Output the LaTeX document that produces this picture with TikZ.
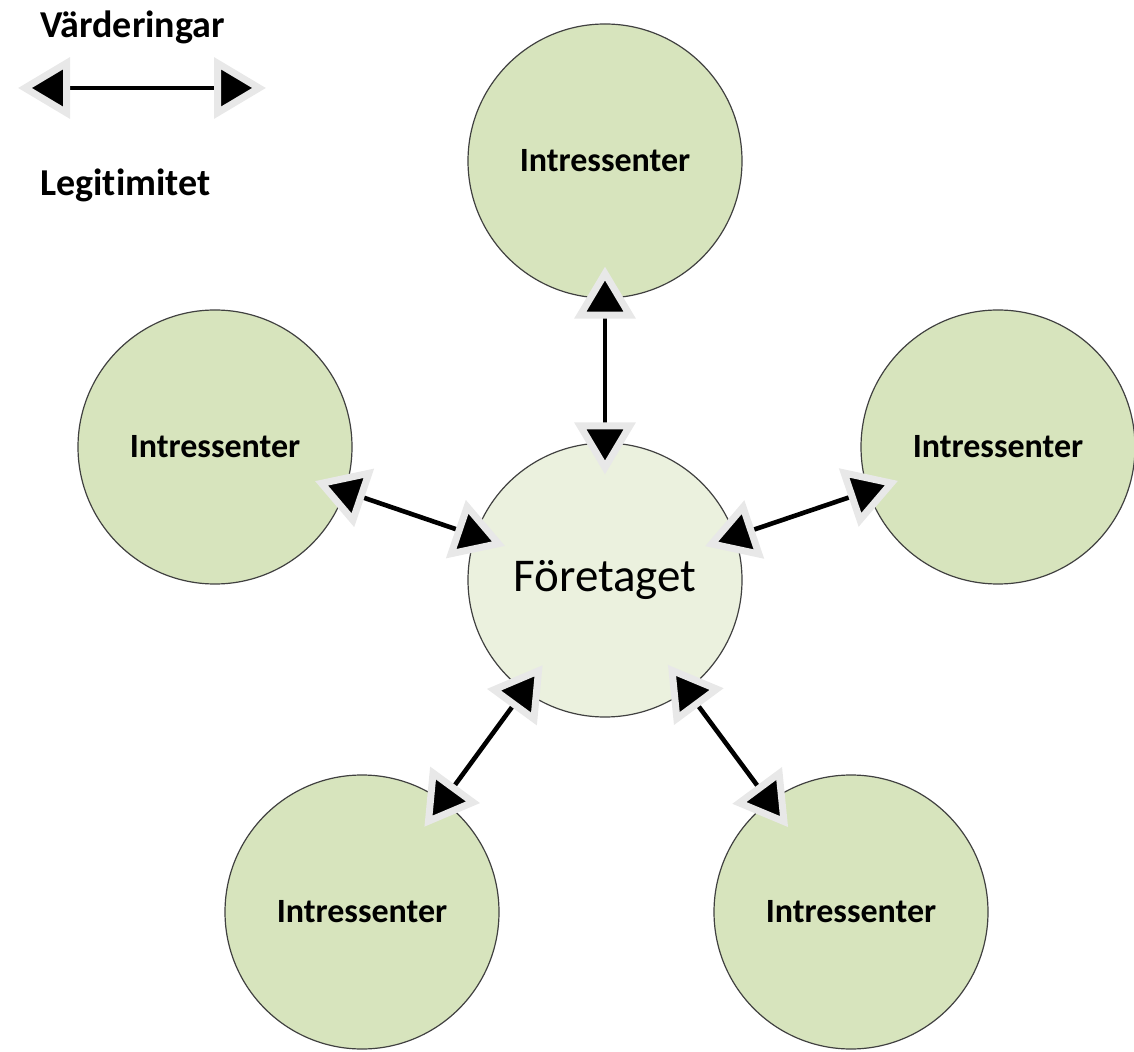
\documentclass[tikz,border=0pt]{standalone}
\usepackage{fontspec}
\setmainfont{Carlito}[Ligatures=NoCommon]
\usetikzlibrary{arrows.meta}
\definecolor{gronn}{HTML}{D7E4BD}
\definecolor{ljus}{HTML}{EBF1DE}
\tikzset{%
  >={Triangle[length=26pt,width=30pt,line width=3.5pt,color=black!9,fill=black]},
  font=\bfseries
}
\begin{document}
\begin{tikzpicture}[x=0.5pt,y=-0.5pt,
	intr/.style={circle,draw=black!75,line width=0.6pt,fill=gronn,minimum size=137pt,%
		inner sep=0pt,font=\fontsize{17}{20}\selectfont\bfseries},%
	ftg/.style={intr,fill=ljus,font=\fontsize{23.5}{27}\selectfont},%
	pil/.style={<->,line width=2.3pt,shorten <=-16pt,shorten >=-16pt},%
	leg/.style={anchor=west,inner sep=0pt,font=\fontsize{19}{22}\selectfont\bfseries}]
	\useasboundingbox (0,0) rectangle (1134,1052);
	\node[ftg] (ftg) at (605,580) {Företaget};
	\node[intr] (topp) at (605,161) {Intressenter};
	\node[intr] (vanster) at (215,447) {Intressenter};
	\node[intr] (hoger) at (998,447) {Intressenter};
	\node[intr] (nedv) at (362,912) {Intressenter};
	\node[intr] (nedh) at (851,912) {Intressenter};
	\draw[pil] (ftg) -- (topp);
	\draw[pil] (ftg) -- (vanster);
	\draw[pil] (ftg) -- (hoger);
	\draw[pil] (ftg) -- (nedv);
	\draw[pil] (ftg) -- (nedh);
	% teckenförklaring
	\node[leg] (vard) at (40,27) {Värderingar};
	\coordinate (la) at (18,88);
	\coordinate (lb) at (266,88);
	\draw[<->,line width=2.3pt] (la) -- (lb);
	\node[leg] (legi) at (40,185) {Legitimitet};
\end{tikzpicture}
\end{document}
